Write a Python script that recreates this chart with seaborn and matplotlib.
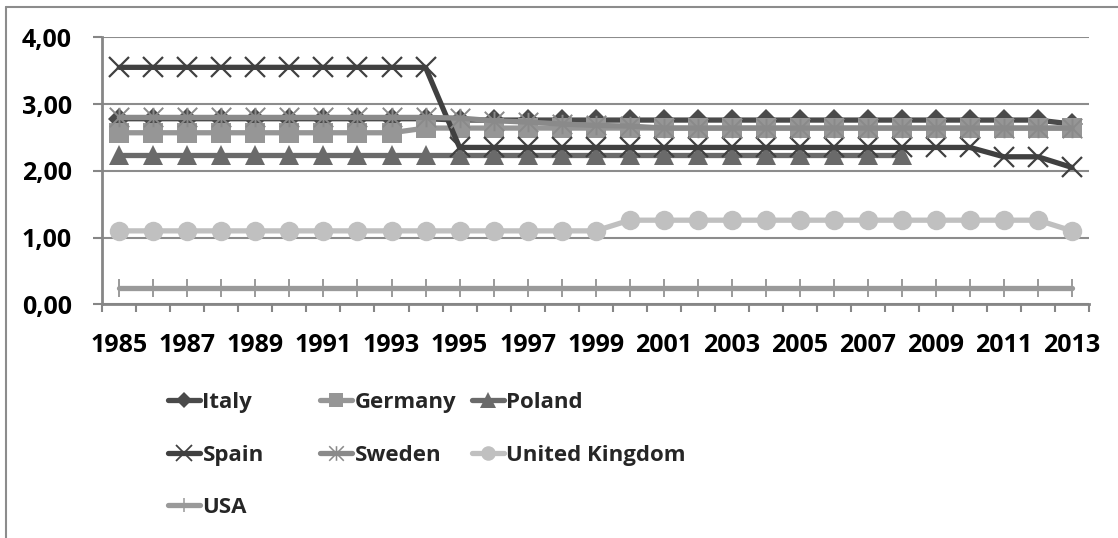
import numpy as np
import pandas as pd
import matplotlib
matplotlib.use("Agg")
import matplotlib.pyplot as plt
import seaborn as sns
from matplotlib.path import Path
from matplotlib.lines import Line2D

years = list(range(1985, 2014))
italy = [2.78] * 10 + [2.76] * 18 + [2.70]
germany = [2.57] * 9 + [2.64] * 20
poland = [2.24] * 24 + [np.nan] * 5
spain = [3.55] * 10 + [2.35] * 16 + [2.21, 2.21, 2.05]
sweden = [2.80] * 10 + [2.79, 2.75, 2.73, 2.70, 2.68, 2.67] + [2.64] * 13
uk = [1.10] * 15 + [1.26] * 13 + [1.10]
usa = [0.25] * 29

series = ["Italy", "Germany", "Poland", "Spain", "Sweden", "United Kingdom", "USA"]
values = [italy, germany, poland, spain, sweden, uk, usa]
yticks = [0, 1, 2, 3, 4]
ytick_labels = ["0,00", "1,00", "2,00", "3,00", "4,00"]

sns.set_theme(style="white")
plt.rcParams["font.family"] = ["Open Sans", "DejaVu Sans"]
plt.rcParams["font.weight"] = "bold"
LEG_FONT = ["Open Sans", "DejaVu Sans"]

asterisk = Path(
    [(0, -1), (0, 1), (-1, -1), (1, 1), (-1, 1), (1, -1)],
    [Path.MOVETO, Path.LINETO, Path.MOVETO, Path.LINETO, Path.MOVETO, Path.LINETO],
)

styles = {
    "Italy": dict(color="#4a4a4a", marker="D", ms=11, mew=0),
    "Germany": dict(color="#969696", marker="s", ms=14, mew=0),
    "Poland": dict(color="#6a6a6a", marker="^", ms=15, mew=0),
    "Spain": dict(color="#404040", marker="x", ms=15, mew=1.6),
    "Sweden": dict(color="#8a8a8a", marker=asterisk, ms=14, mew=1.4),
    "United Kingdom": dict(color="#c0c0c0", marker="o", ms=14, mew=0),
    "USA": dict(color="#9a9a9a", marker="|", ms=13, mew=1.4),
}

rows = []
for name, vals in zip(series, values):
    for i, (yr, v) in enumerate(zip(years, vals)):
        rows.append({"idx": i, "year": yr, "value": v, "series": name})
df = pd.DataFrame(rows)

fig = plt.figure(figsize=(11.18, 5.38), dpi=100)
ax = fig.add_axes([102.3 / 1118, 1 - 304.3 / 538, (1089 - 102.3) / 1118, (304.3 - 37.3) / 538])

handles = []
for z, name in enumerate(series):
    st = styles[name]
    sub = df[df["series"] == name]
    sns.lineplot(data=sub, x="idx", y="value", ax=ax, color=st["color"], lw=3.8,
                 legend=False, zorder=3 + z, estimator=None)
    ax.plot(sub["idx"], sub["value"], ls="none", marker=st["marker"], ms=st["ms"],
            mfc=st["color"], mec=st["color"], mew=st["mew"], zorder=3 + z)
    handles.append(Line2D([], [], color=st["color"], lw=3.8, marker=st["marker"],
                          ms=st["ms"] * 0.75, mfc=st["color"], mec=st["color"],
                          mew=st["mew"] * 0.8, label=name))

ax.set_xlim(-0.5, len(years) - 0.5)
ax.set_ylim(0, 4)
ax.set_xlabel("")
ax.set_ylabel("")
ax.set_yticks(yticks)
ax.set_yticklabels(ytick_labels)
ax.set_xticks(range(0, len(years), 2))
ax.set_xticklabels([str(y) for y in years[::2]])
ax.set_xticks(np.arange(-0.5, len(years), 1), minor=True)
ax.tick_params(axis="x", which="major", length=0, pad=21, labelsize=18)
ax.tick_params(axis="x", which="minor", direction="out", length=6, width=1.5, color="#868686", bottom=True)
ax.tick_params(axis="y", direction="out", length=6.5, width=1.5, color="#868686", left=True, pad=15.5, labelsize=18)
for lab in ax.get_xticklabels() + ax.get_yticklabels():
    lab.set_fontweight("bold")
    lab.set_color("black")

ax.grid(axis="y", color="#8c8c8c", lw=1.5, zorder=1)
ax.set_axisbelow(True)
for s in ["top", "right"]:
    ax.spines[s].set_visible(False)
for s in ["left", "bottom"]:
    ax.spines[s].set_color("#868686")
    ax.spines[s].set_linewidth(2)
    ax.spines[s].set_zorder(20)

# Legend columns
cols = [([0, 3, 6], 168), ([1, 4], 320), ([2, 5], 472)]
for idxs, xpx in cols:
    leg = fig.legend(handles=[handles[i] for i in idxs], loc="upper left",
                     bbox_to_anchor=(xpx / 1118, 1 - 392 / 538), frameon=False,
                     prop=dict(family=LEG_FONT, weight="bold", size=16),
                     handlelength=1.45, handletextpad=0.1,
                     labelspacing=1.42, borderaxespad=0, borderpad=0)

# outer frame
fig.add_artist(Line2D([6 / 1118, 1], [1 - 7 / 538, 1 - 7 / 538], color="#8c8c8c", lw=1.5,
                      transform=fig.transFigure))
fig.add_artist(Line2D([6 / 1118, 6 / 1118], [0, 1 - 7 / 538], color="#8c8c8c", lw=1.5,
                      transform=fig.transFigure))

fig.savefig("out.png", dpi=100, facecolor="white")
